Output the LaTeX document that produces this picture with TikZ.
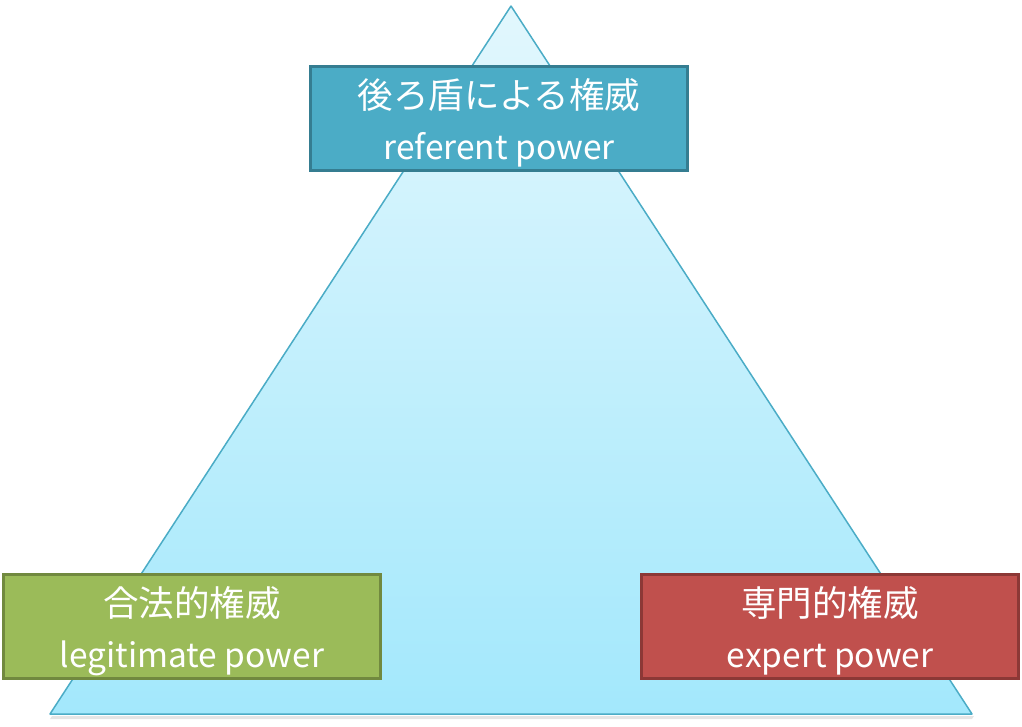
\documentclass[tikz,border=0pt]{standalone}
\usepackage{fontspec}
\setmainfont{Noto Sans CJK JP}
\usetikzlibrary{shadows}
\definecolor{triline}{HTML}{4BACC6}
\definecolor{tritop}{HTML}{E2F7FD}
\definecolor{tribot}{HTML}{A3E8FC}
\definecolor{bluefill}{HTML}{4BACC6}
\definecolor{blueedge}{HTML}{357D91}
\definecolor{greenfill}{HTML}{9BBB59}
\definecolor{greenedge}{HTML}{71893F}
\definecolor{redfill}{HTML}{C0504D}
\definecolor{rededge}{HTML}{8C3836}
\tikzset{
  powerbox/.style={draw, line width=3pt, minimum width=377pt, minimum height=104pt,
    inner sep=0pt, text=white, align=center, font=\fontsize{33.5}{48}\selectfont,
    drop shadow={shadow xshift=1.5pt, shadow yshift=-1.5pt, opacity=0.25}},
}
\newcommand{\jpline}[1]{{\fontsize{35.5}{48}\selectfont\rule{0pt}{40pt}#1}}
\begin{document}
\begin{tikzpicture}[x=1pt,y=-1pt]
\useasboundingbox (0,0) rectangle (1022,726);
\fill[black!20, opacity=0.5] (52,716) -- (974,716) -- (972,719) -- (50,719) -- cycle;
\shade[top color=tritop, bottom color=tribot, draw=triline, line width=1.5pt, line join=round]
  (511,6) -- (972,714) -- (50,714) -- cycle;
\node[powerbox, fill=bluefill, draw=blueedge] (ref) at (499,118)
  {\jpline{後ろ盾による権威}\\[3pt]referent power};
\node[powerbox, fill=greenfill, draw=greenedge] (leg) at (192,626)
  {\jpline{合法的権威}\\[3pt]legitimate power};
\node[powerbox, fill=redfill, draw=rededge] (exp) at (830,626)
  {\jpline{専門的権威}\\[3pt]expert power};
\end{tikzpicture}
\end{document}
